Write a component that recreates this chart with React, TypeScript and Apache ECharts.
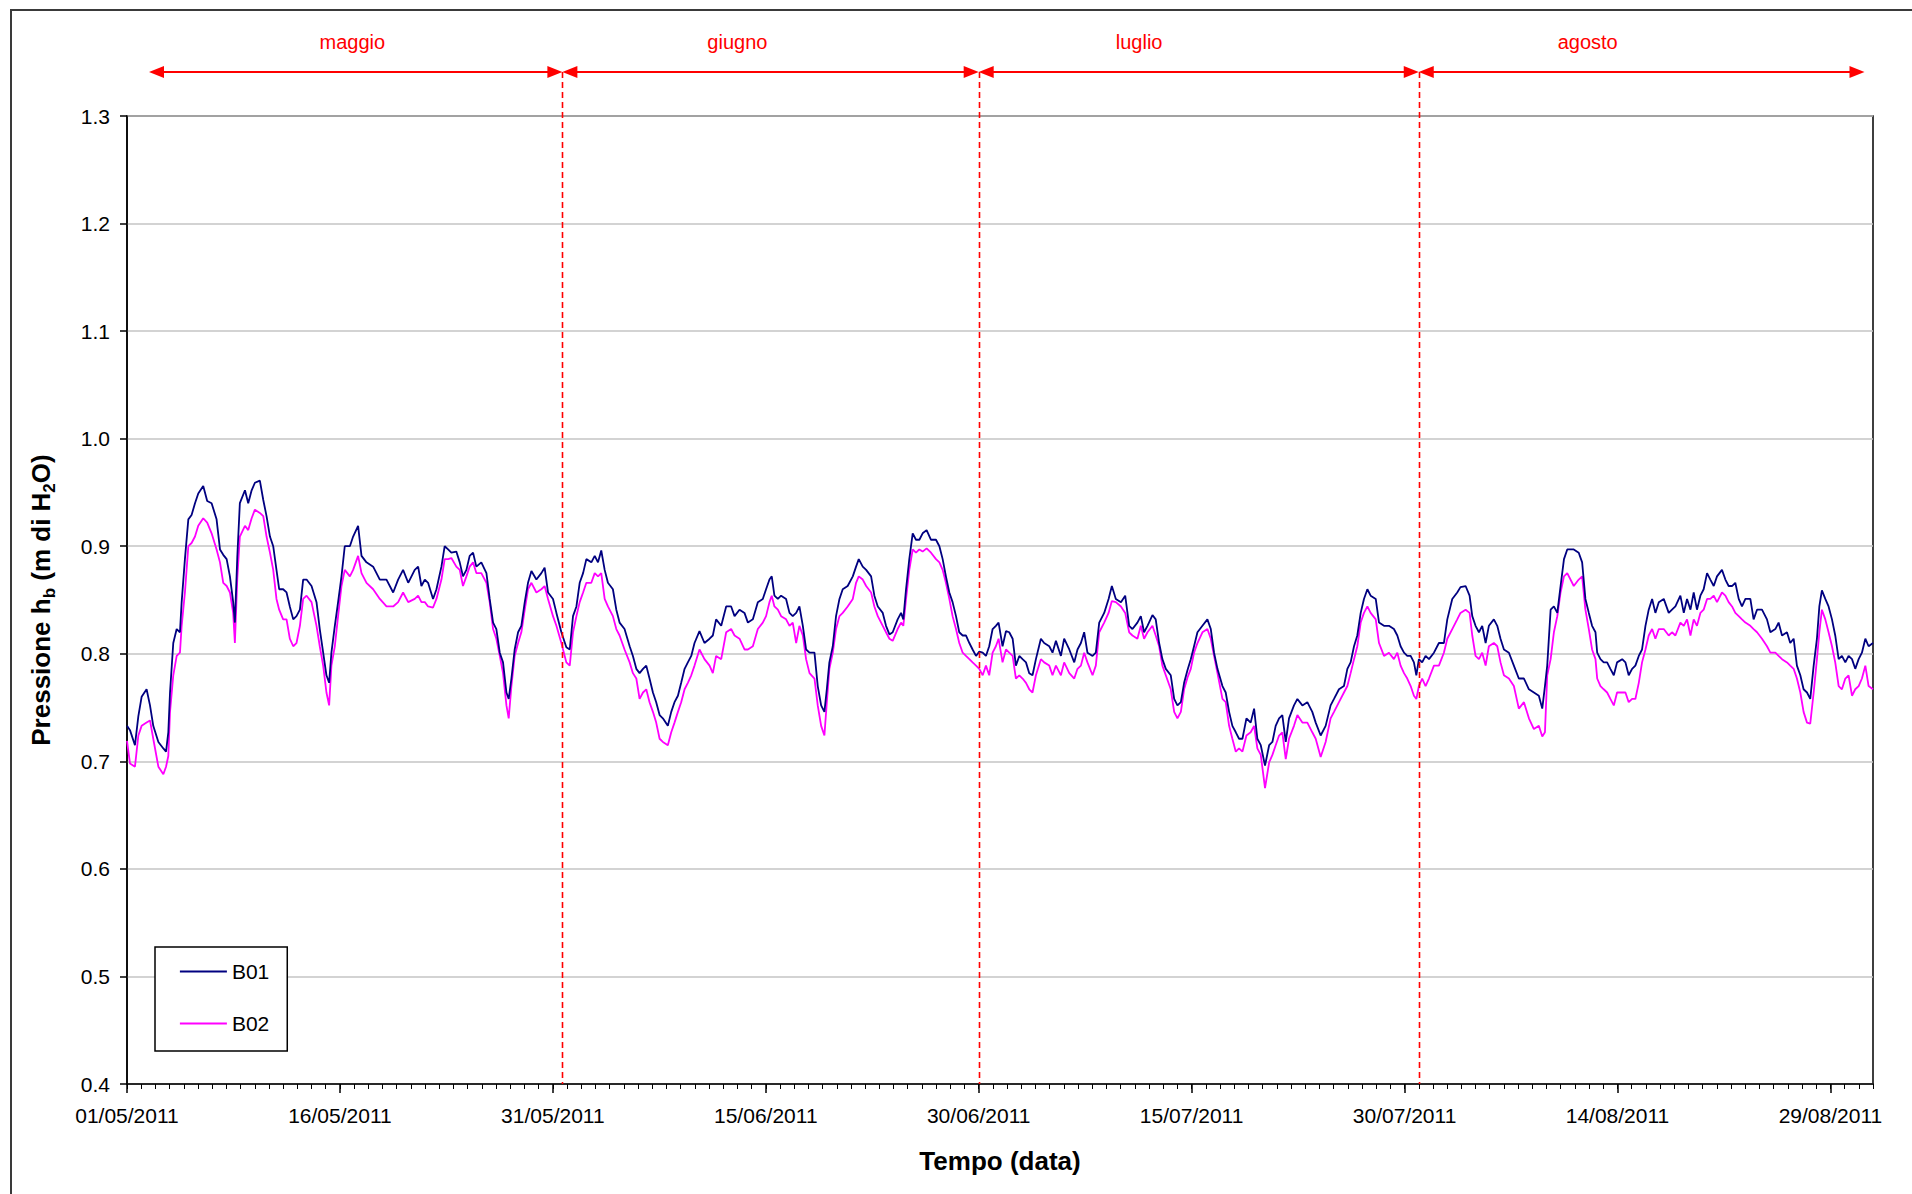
import { useEffect, useRef } from "react";
import * as echarts from "echarts";

const FONT = "'Liberation Sans', Arial, Helvetica, sans-serif";

// time in days from 01/05/2011 00:00
const days: number[] = [
  0.00, 0.21, 0.56, 0.80, 1.03, 1.38, 1.62, 1.85, 2.21, 2.56,
  2.75, 2.91, 3.03, 3.26, 3.50, 3.73, 3.85, 4.08, 4.32, 4.55,
  4.79, 5.02, 5.37, 5.65, 5.96, 6.31, 6.55, 6.78, 7.02, 7.25,
  7.48, 7.60, 7.77, 7.95, 8.31, 8.54, 8.78, 9.01, 9.36, 9.60,
  9.83, 10.07, 10.30, 10.53, 10.72, 11.00, 11.24, 11.47, 11.71, 11.94,
  12.18, 12.41, 12.65, 13.00, 13.35, 13.58, 13.82, 14.05, 14.24, 14.40,
  14.64, 14.87, 15.11, 15.34, 15.70, 15.93, 16.28, 16.52, 16.87, 17.34,
  17.81, 18.28, 18.75, 19.10, 19.45, 19.81,
  20.27, 20.51, 20.74, 20.98, 21.21, 21.56, 21.80, 22.15, 22.38, 22.62,
  22.85, 23.20, 23.44, 23.67, 23.91, 24.14, 24.38, 24.61, 24.96, 25.32,
  25.55, 25.79, 26.02, 26.26, 26.49, 26.73, 26.89, 27.08, 27.31, 27.55,
  27.78, 28.02, 28.25, 28.49, 28.84, 29.19, 29.42, 29.66, 30.01, 30.25,
  30.60, 30.95, 31.19, 31.42, 31.66, 31.89, 32.13, 32.36, 32.71, 32.95,
  33.18, 33.41, 33.65, 33.88, 34.23, 34.47, 34.70, 35.05, 35.41, 35.64,
  35.88, 36.11, 36.35, 36.58, 36.81, 37.05, 37.28, 37.52, 37.75, 38.10,
  38.34, 38.57, 38.81, 39.04, 39.28, 39.51, 39.75, 39.98,
  40.33, 40.68, 41.04, 41.27, 41.50, 41.86, 42.21, 42.56, 42.80, 43.15,
  43.50, 43.74, 44.09, 44.44, 44.79, 45.02, 45.26, 45.42, 45.61, 45.85,
  46.08, 46.43, 46.67, 46.90, 47.14, 47.37, 47.61, 47.84, 48.08, 48.43,
  48.66, 48.90, 49.13, 49.30, 49.48, 49.72, 49.95, 50.19, 50.42, 50.77,
  51.13, 51.36, 51.55, 51.83, 52.07, 52.42, 52.65, 52.89, 53.24, 53.47,
  53.71, 53.94, 54.29, 54.53, 54.69, 54.88, 55.11, 55.35, 55.58, 55.82,
  56.05, 56.33, 56.64, 56.99, 57.23, 57.46, 57.69, 57.93, 58.16, 58.40,
  58.63, 58.87, 59.10, 59.34, 59.57, 59.81, 60.04, 60.28, 60.51,
  60.74, 60.98, 61.21, 61.40, 61.68, 61.92, 62.15, 62.39, 62.62, 62.86,
  63.09, 63.33, 63.56, 63.79, 64.03, 64.38, 64.61, 64.97, 65.20, 65.44,
  65.79, 66.02, 66.38, 66.73, 66.96, 67.20, 67.43, 67.66, 68.02, 68.25,
  68.49, 68.84, 69.15, 69.38, 69.66, 70.02, 70.32, 70.60, 70.83, 71.18,
  71.42, 71.65, 71.89, 72.24, 72.47, 72.71, 72.94, 73.18, 73.53, 73.77,
  74.00, 74.24, 74.47, 74.71, 74.94, 75.17, 75.41, 75.76, 76.11, 76.35,
  76.58, 76.82, 77.17, 77.40, 77.64, 77.87, 78.11, 78.34, 78.58, 78.86,
  79.16, 79.40, 79.63, 79.87, 80.17, 80.46, 80.69, 80.92,
  81.16, 81.39, 81.63, 81.86, 82.21, 82.45, 82.80, 83.15, 83.50, 83.74,
  84.09, 84.44, 84.79, 85.03, 85.38, 85.73, 85.97, 86.20, 86.44, 86.67,
  86.91, 87.14, 87.38, 87.61, 87.97, 88.20, 88.55, 88.90, 89.25, 89.49,
  89.72, 89.96, 90.19, 90.43, 90.66, 90.83, 91.01, 91.24, 91.48, 91.72,
  92.07, 92.42, 92.77, 93.01, 93.36, 93.71, 93.94, 94.30, 94.58, 94.77,
  95.00, 95.24, 95.47, 95.71, 95.94, 96.29, 96.53, 96.76, 97.00, 97.35,
  97.70, 98.05, 98.41, 98.76, 99.11, 99.46, 99.70, 99.89, 100.05, 100.29,
  100.52, 100.76, 100.99, 101.23, 101.46,
  101.92, 102.27, 102.51, 102.74, 102.98, 103.21, 103.45, 103.57, 103.80, 104.03,
  104.27, 104.50, 104.74, 104.97, 105.33, 105.56, 105.79, 106.03, 106.26, 106.50,
  106.73, 106.97, 107.20, 107.44, 107.67, 107.91, 108.26, 108.61, 108.84, 109.08,
  109.43, 109.67, 109.90, 110.14, 110.37, 110.60, 110.84, 111.07, 111.31, 111.54,
  111.78, 112.01, 112.36, 112.60, 112.83, 113.07, 113.30, 113.54, 113.77, 114.01,
  114.36, 114.59, 114.83, 115.18, 115.53, 115.77, 116.12, 116.35, 116.59, 116.94,
  117.17, 117.41, 117.64, 117.88, 118.11, 118.35, 118.58, 118.82, 119.05, 119.22,
  119.40, 119.64, 119.87, 120.11, 120.34, 120.58, 120.81, 121.05, 121.28, 121.52,
  121.75, 121.99, 122.22, 122.46, 122.69, 123.00,
];

const b01: number[] = [
  0.733, 0.729, 0.715, 0.742, 0.760, 0.767, 0.752, 0.733, 0.718, 0.712,
  0.709, 0.727, 0.764, 0.810, 0.823, 0.820, 0.848, 0.888, 0.925, 0.929,
  0.940, 0.949, 0.956, 0.942, 0.940, 0.925, 0.897, 0.892, 0.888, 0.872,
  0.848, 0.829, 0.890, 0.940, 0.952, 0.940, 0.952, 0.959, 0.961, 0.943,
  0.928, 0.909, 0.900, 0.878, 0.860, 0.860, 0.857, 0.844, 0.832, 0.835,
  0.841, 0.869, 0.869, 0.863, 0.848, 0.823, 0.801, 0.780, 0.773, 0.801,
  0.826, 0.848, 0.872, 0.900, 0.900, 0.909, 0.919, 0.891, 0.885, 0.881,
  0.869, 0.869, 0.857, 0.869, 0.878, 0.866,
  0.878, 0.881, 0.863, 0.869, 0.866, 0.851, 0.860, 0.881, 0.900, 0.897,
  0.894, 0.895, 0.885, 0.872, 0.878, 0.891, 0.894, 0.881, 0.885, 0.875,
  0.851, 0.829, 0.823, 0.801, 0.792, 0.764, 0.758, 0.777, 0.804, 0.820,
  0.826, 0.848, 0.866, 0.877, 0.869, 0.875, 0.880, 0.857, 0.851, 0.838,
  0.820, 0.806, 0.804, 0.835, 0.844, 0.866, 0.875, 0.888, 0.885, 0.891,
  0.885, 0.896, 0.878, 0.866, 0.860, 0.841, 0.829, 0.823, 0.807, 0.798,
  0.786, 0.782, 0.786, 0.789, 0.777, 0.764, 0.755, 0.743, 0.740, 0.733,
  0.746, 0.755, 0.761, 0.773, 0.786, 0.792, 0.798, 0.810,
  0.821, 0.810, 0.814, 0.817, 0.832, 0.826, 0.844, 0.844, 0.835, 0.841,
  0.838, 0.829, 0.832, 0.848, 0.851, 0.860, 0.869, 0.872, 0.854, 0.851,
  0.854, 0.851, 0.838, 0.835, 0.838, 0.844, 0.826, 0.804, 0.801, 0.801,
  0.770, 0.752, 0.746, 0.767, 0.792, 0.807, 0.835, 0.851, 0.860, 0.863,
  0.872, 0.881, 0.888, 0.881, 0.878, 0.872, 0.854, 0.844, 0.838, 0.826,
  0.818, 0.820, 0.832, 0.838, 0.832, 0.860, 0.888, 0.912, 0.906, 0.906,
  0.912, 0.915, 0.906, 0.906, 0.900, 0.888, 0.872, 0.857, 0.848, 0.835,
  0.820, 0.817, 0.817, 0.810, 0.804, 0.798, 0.802, 0.801, 0.798,
  0.807, 0.823, 0.826, 0.829, 0.807, 0.821, 0.820, 0.814, 0.789, 0.798,
  0.795, 0.792, 0.782, 0.780, 0.795, 0.814, 0.810, 0.807, 0.801, 0.812,
  0.798, 0.814, 0.804, 0.792, 0.804, 0.810, 0.820, 0.801, 0.798, 0.801,
  0.829, 0.838, 0.851, 0.863, 0.851, 0.848, 0.854, 0.826, 0.823, 0.829,
  0.835, 0.820, 0.826, 0.836, 0.832, 0.810, 0.795, 0.786, 0.780, 0.758,
  0.752, 0.755, 0.773, 0.785, 0.795, 0.807, 0.820, 0.826, 0.832, 0.823,
  0.801, 0.786, 0.770, 0.764, 0.746, 0.733, 0.727, 0.721, 0.721, 0.740,
  0.736, 0.749, 0.721, 0.715, 0.696, 0.715, 0.718, 0.733,
  0.740, 0.743, 0.718, 0.740, 0.752, 0.758, 0.752, 0.755, 0.746, 0.736,
  0.724, 0.733, 0.752, 0.758, 0.767, 0.770, 0.786, 0.792, 0.807, 0.817,
  0.838, 0.851, 0.860, 0.854, 0.851, 0.829, 0.826, 0.826, 0.823, 0.817,
  0.807, 0.801, 0.798, 0.798, 0.792, 0.780, 0.795, 0.792, 0.798, 0.795,
  0.801, 0.810, 0.810, 0.832, 0.851, 0.857, 0.862, 0.863, 0.854, 0.835,
  0.826, 0.820, 0.826, 0.810, 0.826, 0.832, 0.826, 0.814, 0.804, 0.801,
  0.789, 0.777, 0.777, 0.767, 0.764, 0.761, 0.749, 0.770, 0.789, 0.841,
  0.844, 0.838, 0.863, 0.888, 0.897,
  0.897, 0.894, 0.885, 0.851, 0.838, 0.826, 0.820, 0.801, 0.795, 0.792,
  0.792, 0.786, 0.780, 0.792, 0.795, 0.792, 0.780, 0.786, 0.789, 0.798,
  0.804, 0.826, 0.841, 0.851, 0.838, 0.848, 0.851, 0.838, 0.841, 0.844,
  0.854, 0.838, 0.851, 0.841, 0.857, 0.841, 0.854, 0.860, 0.875, 0.869,
  0.863, 0.872, 0.878, 0.869, 0.863, 0.863, 0.866, 0.851, 0.844, 0.851,
  0.851, 0.832, 0.841, 0.841, 0.832, 0.820, 0.823, 0.829, 0.817, 0.820,
  0.810, 0.814, 0.789, 0.780, 0.767, 0.764, 0.758, 0.789, 0.814, 0.844,
  0.859, 0.851, 0.844, 0.832, 0.817, 0.795, 0.798, 0.792, 0.798, 0.795,
  0.786, 0.795, 0.801, 0.814, 0.807, 0.810,
];

const b02: number[] = [
  0.719, 0.698, 0.695, 0.724, 0.733, 0.736, 0.738, 0.721, 0.695, 0.688,
  0.695, 0.705, 0.746, 0.780, 0.798, 0.801, 0.826, 0.857, 0.900, 0.903,
  0.909, 0.919, 0.926, 0.922, 0.912, 0.897, 0.885, 0.866, 0.863, 0.857,
  0.838, 0.810, 0.870, 0.909, 0.919, 0.915, 0.926, 0.934, 0.931, 0.928,
  0.909, 0.894, 0.878, 0.851, 0.841, 0.832, 0.832, 0.814, 0.807, 0.810,
  0.826, 0.851, 0.854, 0.848, 0.826, 0.807, 0.789, 0.764, 0.752, 0.789,
  0.807, 0.835, 0.863, 0.878, 0.872, 0.878, 0.891, 0.875, 0.866, 0.860,
  0.851, 0.844, 0.844, 0.848, 0.857, 0.848,
  0.851, 0.854, 0.848, 0.848, 0.844, 0.843, 0.851, 0.869, 0.888, 0.888,
  0.889, 0.881, 0.878, 0.863, 0.872, 0.881, 0.885, 0.875, 0.875, 0.866,
  0.848, 0.823, 0.814, 0.798, 0.782, 0.752, 0.740, 0.770, 0.798, 0.810,
  0.820, 0.841, 0.860, 0.866, 0.857, 0.860, 0.863, 0.851, 0.835, 0.826,
  0.810, 0.792, 0.789, 0.820, 0.835, 0.848, 0.857, 0.866, 0.866, 0.875,
  0.872, 0.875, 0.851, 0.844, 0.835, 0.823, 0.817, 0.804, 0.792, 0.782,
  0.777, 0.758, 0.764, 0.767, 0.755, 0.746, 0.736, 0.721, 0.718, 0.715,
  0.727, 0.736, 0.746, 0.755, 0.767, 0.773, 0.780, 0.789,
  0.804, 0.795, 0.789, 0.782, 0.798, 0.795, 0.820, 0.823, 0.817, 0.814,
  0.804, 0.804, 0.807, 0.823, 0.829, 0.835, 0.848, 0.854, 0.844, 0.841,
  0.835, 0.832, 0.826, 0.829, 0.810, 0.826, 0.817, 0.795, 0.782, 0.777,
  0.752, 0.733, 0.724, 0.755, 0.786, 0.801, 0.823, 0.835, 0.838, 0.844,
  0.851, 0.866, 0.872, 0.869, 0.863, 0.857, 0.844, 0.835, 0.826, 0.820,
  0.814, 0.812, 0.823, 0.829, 0.826, 0.851, 0.878, 0.897, 0.894, 0.897,
  0.895, 0.898, 0.894, 0.888, 0.885, 0.878, 0.866, 0.851, 0.835, 0.823,
  0.810, 0.801, 0.798, 0.795, 0.792, 0.789, 0.786, 0.780, 0.789,
  0.780, 0.801, 0.807, 0.814, 0.792, 0.804, 0.801, 0.798, 0.777, 0.780,
  0.777, 0.773, 0.767, 0.764, 0.780, 0.795, 0.792, 0.789, 0.780, 0.789,
  0.780, 0.792, 0.782, 0.777, 0.786, 0.789, 0.801, 0.792, 0.780, 0.789,
  0.820, 0.829, 0.838, 0.849, 0.848, 0.844, 0.838, 0.820, 0.817, 0.814,
  0.826, 0.814, 0.820, 0.826, 0.817, 0.807, 0.789, 0.780, 0.767, 0.746,
  0.740, 0.746, 0.767, 0.778, 0.786, 0.801, 0.810, 0.820, 0.823, 0.814,
  0.798, 0.782, 0.758, 0.755, 0.733, 0.721, 0.709, 0.712, 0.709, 0.724,
  0.727, 0.733, 0.712, 0.706, 0.675, 0.699, 0.706, 0.715,
  0.724, 0.727, 0.702, 0.721, 0.733, 0.743, 0.736, 0.736, 0.727, 0.721,
  0.704, 0.718, 0.740, 0.746, 0.755, 0.764, 0.770, 0.782, 0.795, 0.807,
  0.829, 0.838, 0.844, 0.838, 0.832, 0.810, 0.798, 0.801, 0.795, 0.801,
  0.789, 0.782, 0.777, 0.770, 0.761, 0.758, 0.770, 0.777, 0.770, 0.777,
  0.789, 0.789, 0.801, 0.814, 0.823, 0.832, 0.838, 0.841, 0.838, 0.817,
  0.798, 0.795, 0.801, 0.789, 0.807, 0.810, 0.807, 0.792, 0.780, 0.777,
  0.770, 0.749, 0.755, 0.740, 0.730, 0.733, 0.723, 0.727, 0.780, 0.795,
  0.820, 0.835, 0.857, 0.872, 0.875,
  0.863, 0.869, 0.872, 0.841, 0.823, 0.804, 0.795, 0.777, 0.770, 0.767,
  0.764, 0.758, 0.752, 0.764, 0.764, 0.764, 0.755, 0.758, 0.758, 0.773,
  0.792, 0.804, 0.817, 0.823, 0.814, 0.823, 0.823, 0.817, 0.820, 0.817,
  0.829, 0.826, 0.832, 0.817, 0.832, 0.826, 0.838, 0.841, 0.851, 0.851,
  0.854, 0.848, 0.857, 0.854, 0.848, 0.844, 0.838, 0.835, 0.832, 0.829,
  0.826, 0.823, 0.820, 0.814, 0.807, 0.801, 0.801, 0.798, 0.795, 0.792,
  0.789, 0.786, 0.777, 0.764, 0.746, 0.736, 0.735, 0.764, 0.795, 0.820,
  0.841, 0.832, 0.820, 0.807, 0.792, 0.770, 0.767, 0.777, 0.780, 0.761,
  0.767, 0.770, 0.777, 0.789, 0.770, 0.767,
];

const seriesNames = ["B01", "B02"];
const seriesColors = ["#000080", "#ff00ff"];
const yMin = 0.4;
const yMax = 1.3;
const yStep = 0.1;
const xMin = 0;
const xMax = 123;
const xMajorStep = 15;
const xMinorStep = 1;
const startDateUTC = Date.UTC(2011, 4, 1);
const monthNames = ["maggio", "giugno", "luglio", "agosto"];
const monthArrowEnds = [1.55, 30.67, 60.0, 91.0, 122.4];
const monthLabelDays = [15.87, 43.0, 71.3, 102.9];
const xTitle = "Tempo (data)";

function formatDay(v: number): string {
  const d = new Date(startDateUTC + Math.round(v) * 86400000);
  const dd = String(d.getUTCDate()).padStart(2, "0");
  const mm = String(d.getUTCMonth() + 1).padStart(2, "0");
  return `${dd}/${mm}/${d.getUTCFullYear()}`;
}

export default function App() {
  const ref = useRef<HTMLDivElement>(null);

  useEffect(() => {
    const chart = echarts.init(ref.current as HTMLDivElement, null, { renderer: "svg" });
    const n = Math.min(days.length, b01.length, b02.length);
    const data1: number[][] = [];
    const data2: number[][] = [];
    for (let i = 0; i < n; i++) {
      data1.push([days[i], b01[i]]);
      data2.push([days[i], b02[i]]);
    }
    const option: any = {
      animation: false,
      backgroundColor: "#ffffff",
      grid: {
        left: 127,
        right: 39,
        top: 116,
        bottom: 110,
        show: true,
        borderColor: "#000",
        borderWidth: 1.5,
        backgroundColor: "transparent",
        outerBoundsMode: "none",
      },
      xAxis: [
        {
          type: "value",
          min: xMin,
          max: xMax,
          interval: xMajorStep,
          position: "bottom",
          axisLine: { show: true, onZero: false, lineStyle: { color: "#000", width: 1.5 } },
          axisTick: { show: true, length: 9, lineStyle: { color: "#000", width: 1.5 } },
          axisLabel: {
            show: true,
            margin: 21,
            fontSize: 21,
            color: "#000",
            fontFamily: FONT,
            formatter: formatDay,
            showMaxLabel: false,
            showMinLabel: true,
          },
          splitLine: { show: false },
        },
        {
          type: "value",
          min: xMin,
          max: xMax,
          interval: xMinorStep,
          position: "bottom",
          axisLine: { show: false, onZero: false },
          axisTick: { show: true, length: 5, lineStyle: { color: "#000", width: 1 } },
          axisLabel: { show: false },
          splitLine: { show: false },
        },
      ],
      yAxis: {
        type: "value",
        min: yMin,
        max: yMax,
        interval: yStep,
        axisLine: { show: true, onZero: false, lineStyle: { color: "#000", width: 1.5 } },
        axisTick: { show: true, length: 7, lineStyle: { color: "#000", width: 1.5 } },
        axisLabel: {
          margin: 17,
          fontSize: 21,
          color: "#000",
          fontFamily: FONT,
          formatter: (v: number) => v.toFixed(1),
        },
        splitLine: { show: true, lineStyle: { color: "#c4c4c4", width: 1.5 } },
      },
      legend: {
        show: true,
        orient: "vertical",
        left: 155,
        top: 947,
        data: seriesNames,
        itemWidth: 47,
        itemHeight: 21,
        itemGap: 31,
        padding: [14, 18, 17, 24],
        borderColor: "#000",
        borderWidth: 1.5,
        backgroundColor: "#fff",
        itemStyle: { opacity: 0, borderWidth: 0 },
        lineStyle: { width: 1.8 },
        textStyle: { fontSize: 21, color: "#000", fontFamily: FONT, lineHeight: 21 },
        selectedMode: false,
      },
      series: [
        {
          name: seriesNames[0],
          type: "line",
          xAxisIndex: 0,
          yAxisIndex: 0,
          data: data1,
          symbol: "none",
          showSymbol: false,
          silent: true,
          lineStyle: { color: seriesColors[0], width: 1.8 },
          itemStyle: { color: seriesColors[0] },
          z: 3,
        },
        {
          name: seriesNames[1],
          type: "line",
          xAxisIndex: 0,
          yAxisIndex: 0,
          data: data2,
          symbol: "none",
          showSymbol: false,
          silent: true,
          lineStyle: { color: seriesColors[1], width: 1.8 },
          itemStyle: { color: seriesColors[1] },
          z: 2,
        },
      ],
    };
    chart.setOption(option);

    const px = (d: number) => chart.convertToPixel({ xAxisIndex: 0 }, d) as unknown as number;
    const py = (v: number) => chart.convertToPixel({ yAxisIndex: 0 }, v) as unknown as number;
    const yBottom = py(yMin);
    const yTop = py(yMax);
    const xLeft = px(xMin);
    const xRight = px(xMax);
    const arrowY = 72;
    const labelY = 42;
    const headLen = 15;
    const headHalf = 6;
    const red = "#ff0000";

    const elements: any[] = [];
    elements.push({
      type: "rect",
      shape: { x: 11, y: 10, width: 2000, height: 2000 },
      style: { fill: "none", stroke: "#3a3a3a", lineWidth: 2 },
      silent: true,
      z: 1,
    });
    for (let i = 1; i < monthArrowEnds.length - 1; i++) {
      const x = Math.round(px(monthArrowEnds[i])) + 0.5;
      elements.push({
        type: "line",
        shape: { x1: x, y1: arrowY, x2: x, y2: yBottom },
        style: { stroke: red, lineWidth: 1.6, lineDash: [6, 4] },
        silent: true,
        z: 100,
      });
    }
    for (let i = 0; i < monthNames.length; i++) {
      const xa = px(monthArrowEnds[i]);
      const xb = px(monthArrowEnds[i + 1]);
      elements.push({
        type: "line",
        shape: { x1: xa + 4, y1: arrowY, x2: xb - 4, y2: arrowY },
        style: { stroke: red, lineWidth: 2 },
        silent: true,
        z: 100,
      });
      elements.push({
        type: "polygon",
        shape: { points: [[xa, arrowY], [xa + headLen, arrowY - headHalf], [xa + headLen, arrowY + headHalf]] },
        style: { fill: red },
        silent: true,
        z: 100,
      });
      elements.push({
        type: "polygon",
        shape: { points: [[xb, arrowY], [xb - headLen, arrowY - headHalf], [xb - headLen, arrowY + headHalf]] },
        style: { fill: red },
        silent: true,
        z: 100,
      });
      elements.push({
        type: "text",
        x: px(monthLabelDays[i]),
        y: labelY,
        style: {
          text: monthNames[i],
          fill: red,
          fontSize: 20,
          fontFamily: FONT,
          align: "center",
          verticalAlign: "middle",
        },
        silent: true,
        z: 100,
      });
    }
    elements.push({
      type: "text",
      x: (xLeft + xRight) / 2,
      y: 1161,
      style: {
        text: xTitle,
        fill: "#000",
        fontSize: 26,
        fontWeight: "bold",
        fontFamily: FONT,
        align: "center",
        verticalAlign: "middle",
      },
      silent: true,
      z: 100,
    });
    elements.push({
      type: "text",
      x: 41,
      y: (yTop + yBottom) / 2,
      rotation: Math.PI / 2,
      style: {
        text: "{a|Pressione h}{s|b}{a| (m di H}{s|2}{a|O)}",
        align: "center",
        verticalAlign: "middle",
        rich: {
          a: { fontSize: 26, fontWeight: "bold", fontFamily: FONT, fill: "#000", lineHeight: 34, verticalAlign: "middle" },
          s: { fontSize: 17, fontWeight: "bold", fontFamily: FONT, fill: "#000", lineHeight: 18, verticalAlign: "bottom" },
        },
      },
      silent: true,
      z: 100,
    });
    chart.setOption({ graphic: elements });

    return () => {
      chart.dispose();
    };
  }, []);

  return (
    <div
      ref={ref}
      style={{ position: "absolute", left: 0, top: 0, width: 1912, height: 1194, background: "#fff" }}
    />
  );
}
